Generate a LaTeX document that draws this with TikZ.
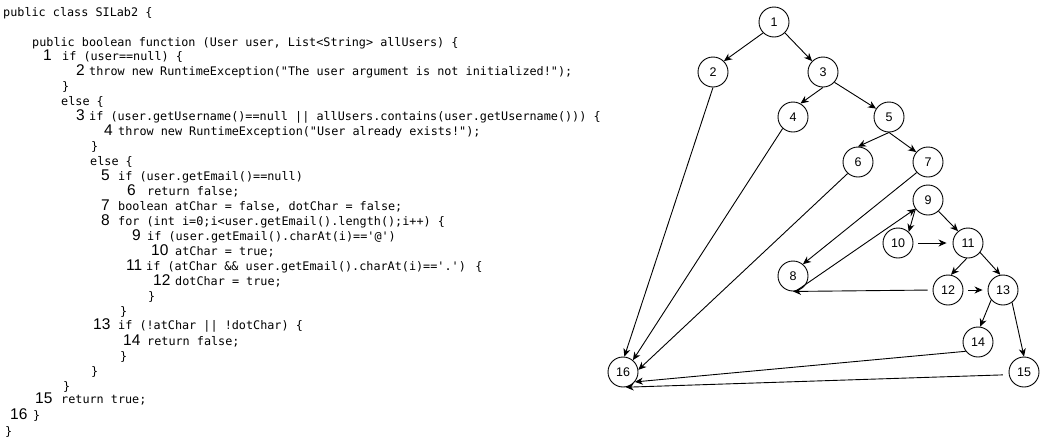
\documentclass[tikz,border=0pt]{standalone}
\usepackage{fontspec}
\usetikzlibrary{arrows.meta}
\newfontfamily\codefont{DejaVu Sans Mono}
\newfontfamily\numfont{Liberation Sans}
\begin{document}
\begin{tikzpicture}[x=1pt,y=-1pt,
  code/.style={font=\codefont\fontsize{11.8pt}{14pt}\selectfont, inner sep=0pt, anchor=base west},
  num/.style={font=\numfont\fontsize{15.5pt}{18pt}\selectfont, inner sep=0pt, anchor=base west},
  vtx/.style={circle, draw, line width=0.9pt, minimum size=30pt, inner sep=0pt, font=\numfont\fontsize{12.5pt}{15pt}\selectfont},
  edge/.style={line width=0.9pt, -{Stealth[length=8pt,width=7pt,inset=2.5pt]}}]
\path[use as bounding box] (0,0) rectangle (1043,445);

% code
\node[code] (l1) at (3,16) {public class SILab2 \{};
\node[code] (l2) at (32,46) {public boolean function (User user, List<String> allUsers) \{};
\node[num] (k1) at (43,60) {1};
\node[code] (l3) at (62,60) {if (user==null) \{};
\node[num] (k2) at (76,75) {2};
\node[code] (l4) at (89,75) {throw new RuntimeException("The user argument is not initialized!");};
\node[code] (l5) at (62,90) {\}};
\node[code] (l6) at (61,105) {else \{};
\node[num] (k3) at (76,120) {3};
\node[code] (l7) at (89,120) {if (user.getUsername()==null || allUsers.contains(user.getUsername())) \{};
\node[num] (k4) at (104,135) {4};
\node[code] (l8) at (118,135) {throw new RuntimeException("User already exists!");};
\node[code] (l9) at (91,150) {\}};
\node[code] (l10) at (90,165) {else \{};
\node[num] (k5) at (101,180) {5};
\node[code] (l11) at (118,180) {if (user.getEmail()==null)};
\node[num] (k6) at (127,195) {6};
\node[code] (l12) at (147,195) {return false;};
\node[num] (k7) at (101,210) {7};
\node[code] (l13) at (118,210) {boolean atChar = false, dotChar = false;};
\node[num] (k8) at (101,225) {8};
\node[code] (l14) at (118,225) {for (int i=0;i<user.getEmail().length();i++) \{};
\node[num] (k9) at (132,240) {9};
\node[code] (l15) at (147,240) {if (user.getEmail().charAt(i)=='@')};
\node[num] (k10) at (151,255) {10};
\node[code] (l16) at (175,255) {atChar = true;};
\node[num] (k11) at (126,270) {11};
\node[code] (l17) at (146,270) {if (atChar \&\& user.getEmail().charAt(i)=='.') \{};
\node[num] (k12) at (153,285) {12};
\node[code] (l18) at (175,285) {dotChar = true;};
\node[code] (l19) at (148,300) {\}};
\node[code] (l20) at (120,315) {\}};
\node[num] (k13) at (93,329) {13};
\node[code] (l21) at (118,329) {if (!atChar || !dotChar) \{};
\node[num] (k14) at (123,345) {14};
\node[code] (l22) at (147,345) {return false;};
\node[code] (l23) at (120,360) {\}};
\node[code] (l24) at (91,375) {\}};
\node[code] (l25) at (63,390) {\}};
\node[num] (k15) at (35,403) {15};
\node[code] (l26) at (61,403) {return true;};
\node[num] (k16) at (10,419) {16};
\node[code] (l27) at (33,419) {\}};
\node[code] (l28) at (5,435) {\}};

% graph
\node[vtx] (n1) at (774,22) {1};
\node[vtx] (n2) at (713,72) {2};
\node[vtx] (n3) at (823,72) {3};
\node[vtx] (n4) at (793,117) {4};
\node[vtx] (n5) at (889,117) {5};
\node[vtx] (n6) at (858,162) {6};
\node[vtx] (n7) at (928,162) {7};
\node[vtx] (n9) at (928,200) {9};
\node[vtx] (n10) at (898,243) {10};
\node[vtx] (n11) at (968,243) {11};
\node[vtx] (n8) at (793,276) {8};
\node[vtx] (n12) at (948,290) {12};
\node[vtx] (n13) at (1003,290) {13};
\node[vtx] (n14) at (978,342) {14};
\node[vtx] (n15) at (1024,372) {15};
\node[vtx] (n16) at (623,372) {16};

\draw[edge] (n1.225) -- (n2.45);
\draw[edge] (n1.-45) -- (n3.135);
\draw[edge] (n3.south) -- (n4.61);
\draw[edge] (n3.-42) -- (n5.147);
\draw[edge] (n5.south) -- (n6.north);
\draw[edge] (n5.south) -- (n7.140);
\draw[edge] (n2.south) -- (n16.85);
\draw[edge] (n4.-132) -- (n16.50);
\draw[edge] (n6.-132) -- (n16.8);
\draw[edge] (n7.-137) -- (n8.50);
\draw[edge] (n8.-80) -- (n9.215);
\draw[edge] (n9.215) -- (n10.46);
\draw[edge] (n9.-47) -- (n11.130);
\draw[edge, shorten <=5pt, shorten >=6pt] (n10.east) -- (n11.west);
\draw[edge] (n11.-95) -- (n12.79);
\draw[edge] (n11.-38) -- (n13.100);
\draw[edge, shorten <=5pt, shorten >=5pt] (n12.east) -- (n13.west);
\draw[edge, shorten <=5pt] (n12.west) -- (n8.south);
\draw[edge] (n13.220) -- (n14.82);
\draw[edge] (n13.-54) -- (n15.north);
\draw[edge] (n14.217) -- (n16.-40);
\draw[edge, shorten <=6pt] (n15.190) -- (n16.-80);
\end{tikzpicture}
\end{document}
